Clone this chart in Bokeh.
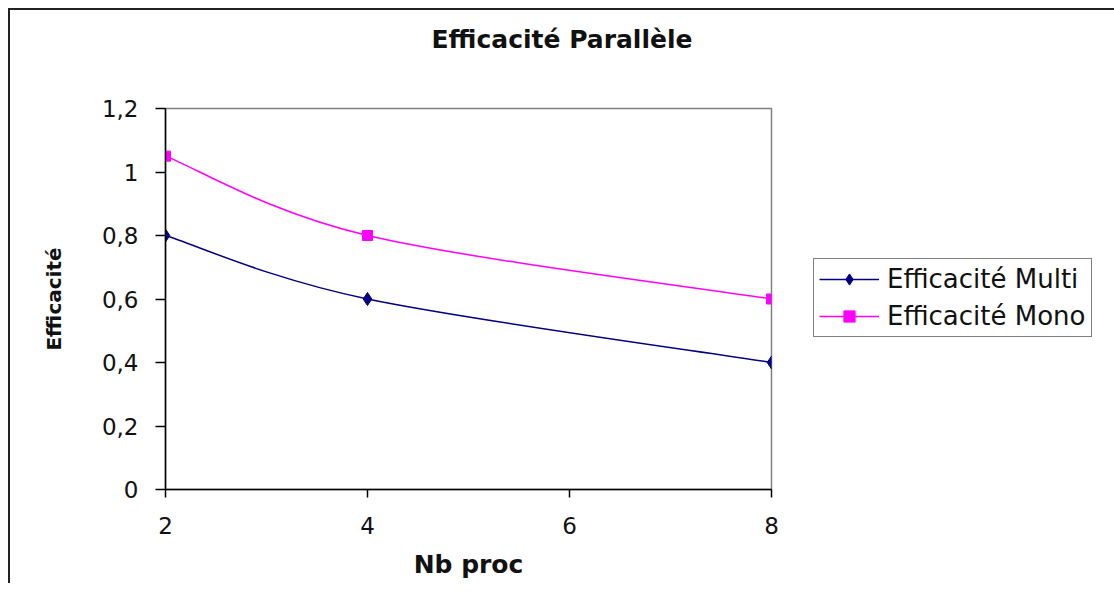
from bokeh.plotting import figure
from bokeh.models import Range1d, Legend, LegendItem, FixedTicker
from bokeh.embed import file_html
from bokeh.resources import INLINE

# ---- data ----
nb_proc = [2, 4, 8]
eff_multi = [0.8, 0.6, 0.4]
eff_mono = [1.05, 0.8, 0.6]
series_names = ["Efficacité Multi", "Efficacité Mono"]
x_ticks = [2, 4, 6, 8]
y_ticks = [0, 0.2, 0.4, 0.6, 0.8, 1.0, 1.2]
y_tick_labels = ["0", "0,2", "0,4", "0,6", "0,8", "1", "1,2"]
title_text = "Efficacité Parallèle"
x_title = "Nb proc"
y_title = "Efficacité"

NAVY = "#000080"
MAGENTA = "#FF00FF"
FONT = "DejaVu Sans"
TXT = "#111111"


def smooth_segments(xs, ys):
    """Excel-like smoothed line: cubic Bezier control points from the data."""
    n = len(xs)
    out = dict(x0=[], y0=[], x1=[], y1=[], cx0=[], cy0=[], cx1=[], cy1=[])
    for i in range(n - 1):
        pm = (xs[max(i - 1, 0)], ys[max(i - 1, 0)])
        p0 = (xs[i], ys[i])
        p1 = (xs[i + 1], ys[i + 1])
        p2 = (xs[min(i + 2, n - 1)], ys[min(i + 2, n - 1)])
        out["x0"].append(p0[0]); out["y0"].append(p0[1])
        out["x1"].append(p1[0]); out["y1"].append(p1[1])
        out["cx0"].append(p0[0] + (p1[0] - pm[0]) / 6.0)
        out["cy0"].append(p0[1] + (p1[1] - pm[1]) / 6.0)
        out["cx1"].append(p1[0] - (p2[0] - p0[0]) / 6.0)
        out["cy1"].append(p1[1] - (p2[1] - p0[1]) / 6.0)
    return out


p = figure(frame_width=606, frame_height=381, output_backend="svg", toolbar_location=None,
           x_range=Range1d(2, 8), y_range=Range1d(0, 1.2),
           min_border_left=165, min_border_right=327,
           min_border_top=108, min_border_bottom=94)
p.border_fill_color = None
p.background_fill_color = "white"
p.outline_line_color = "#808080"
p.outline_line_width = 1.5
p.grid.visible = False
p.styles = {"box-shadow": "inset 8px 8px 0 0 #ffffff, inset 10px 10px 0 0 #222222"}

# title: two blank (no-break space) lines below it keep it well above the plot area
p.title.text = title_text + "\n\u00a0\n\u00a0"
p.title.align = "left"
p.title.offset = 266
p.title.standoff = 0
p.title.vertical_align = "bottom"
p.title.text_line_height = 0.94
p.title.text_font = FONT
p.title.text_font_style = "bold"
p.title.text_font_size = "25px"
p.title.text_color = TXT

# axes
p.xaxis.ticker = FixedTicker(ticks=x_ticks)
p.yaxis.ticker = FixedTicker(ticks=y_ticks)
p.yaxis.major_label_overrides = {t: l for t, l in zip(y_ticks, y_tick_labels)}
for ax in (p.xaxis, p.yaxis):
    ax.axis_line_color = "black"
    ax.axis_line_width = 1.5
    ax.major_tick_line_color = "black"
    ax.major_tick_line_width = 1.5
    ax.minor_tick_line_color = None
    ax.major_label_text_font = FONT
    ax.major_label_text_font_size = "23px"
    ax.major_label_text_color = TXT
    ax.axis_label_text_font = FONT
    ax.axis_label_text_font_style = "bold"
    ax.axis_label_text_color = TXT
p.xaxis.major_tick_out = 8
p.xaxis.major_tick_in = 0
p.yaxis.major_tick_out = 10
p.yaxis.major_tick_in = 0
p.xaxis.major_label_standoff = 19
p.yaxis.major_label_standoff = 17
p.xaxis.axis_label = x_title
p.yaxis.axis_label = y_title
p.xaxis.axis_label_text_font_size = "25px"
p.yaxis.axis_label_text_font_size = "20px"
p.xaxis.axis_label_standoff = 13
p.yaxis.axis_label_standoff = 33

# series
renderers = []
for ys, color, marker, msize in ((eff_multi, NAVY, "diamond", 13),
                                 (eff_mono, MAGENTA, "square", 10)):
    seg = smooth_segments(nb_proc, ys)
    p.bezier(x0=seg["x0"], y0=seg["y0"], x1=seg["x1"], y1=seg["y1"],
             cx0=seg["cx0"], cy0=seg["cy0"], cx1=seg["cx1"], cy1=seg["cy1"],
             line_color=color, line_width=1.5)
    r_leg_line = p.line(x=nb_proc, y=ys, line_color=color, line_width=1.5, visible=False)
    r_pts = p.scatter(x=nb_proc, y=ys, marker=marker, size=msize,
                      fill_color=color, line_color=color)
    renderers.append((r_leg_line, r_pts))

# legend (line + marker, like the reference)
items = [LegendItem(label=name, renderers=[rl, rp])
         for name, (rl, rp) in zip(series_names, renderers)]
legend = Legend(items=items, location=(42, 152), margin=0,
                label_text_font=FONT, label_text_font_size="26px",
                label_text_color=TXT,
                glyph_width=60, glyph_height=28, label_height=28,
                padding=5, spacing=7, label_standoff=8,
                border_line_color="black", border_line_width=1.5,
                background_fill_color="white")
p.add_layout(legend, "right")

open("out.html", "w").write(file_html(p, INLINE))
